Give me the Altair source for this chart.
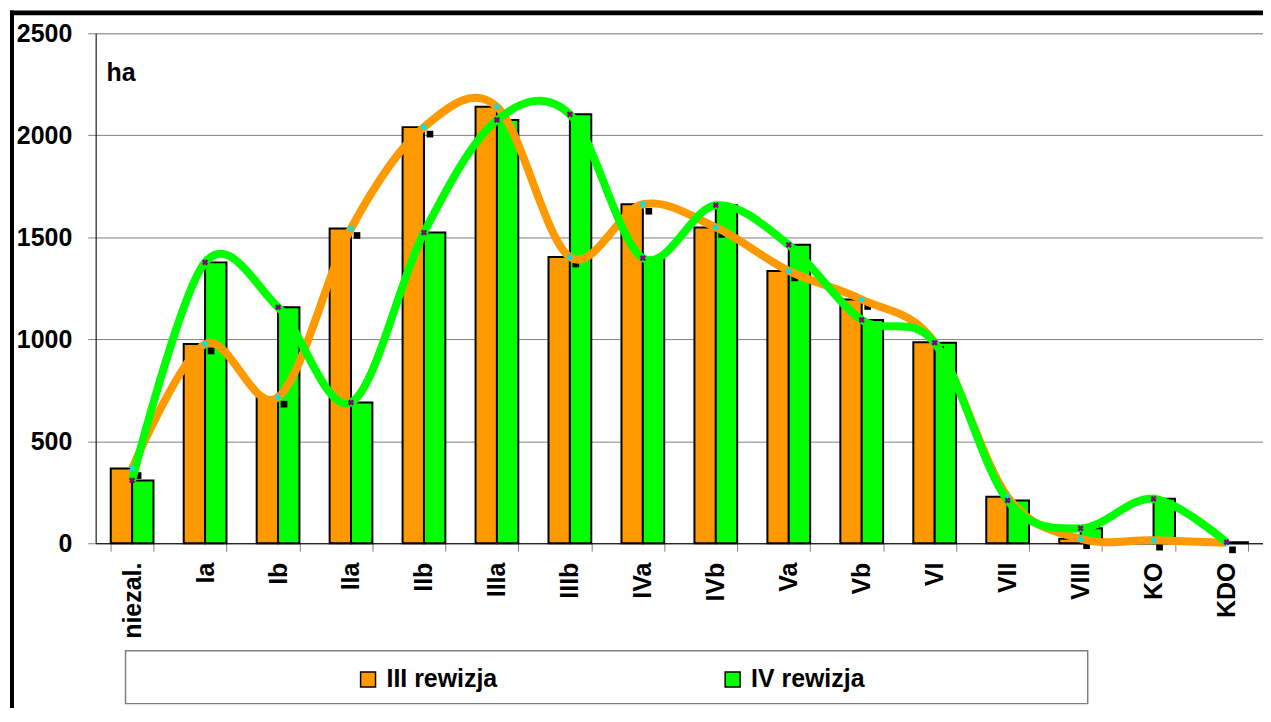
import altair as alt
import pandas as pd

categories = ["niezal.", "Ia", "Ib", "IIa", "IIb", "IIIa", "IIIb", "IVa",
              "IVb", "Va", "Vb", "VI", "VII", "VIII", "KO", "KDO"]
rev3 = [366, 977, 716, 1543, 2040, 2140, 1403, 1662, 1548, 1335, 1195, 985, 228, 22, 15, 2]
rev4 = [308, 1377, 1157, 690, 1523, 2075, 2103, 1398, 1657, 1463, 1095, 983, 210, 73, 218, 5]
series_names = ["III rewizja", "IV rewizja"]
y_ticks = [0, 500, 1000, 1500, 2000, 2500]

rows = []
for c, a, b in zip(categories, rev3, rev4):
    rows.append({"cat": c, "series": series_names[0], "value": a})
    rows.append({"cat": c, "series": series_names[1], "value": b})
df = pd.DataFrame(rows)

FONT = "Liberation Sans"
ORANGE = "#FF9900"
GREEN = "#00FF00"

xenc = alt.X("cat:N", sort=categories, title=None,
             scale=alt.Scale(paddingInner=0.414, paddingOuter=0.207),
             axis=alt.Axis(labelAngle=270, labelFont=FONT, labelFontWeight="bold",
                           labelFontSize=25, labelColor="black", labelPadding=11,
                           tickBand="extent", tickColor="#808080", tickSize=8,
                           domainColor="black", domainWidth=1, grid=False))
yenc = alt.Y("value:Q", title=None,
             scale=alt.Scale(domain=[0, 2500], nice=False),
             axis=alt.Axis(values=y_ticks, format="d", labelFont=FONT, labelFontWeight="bold",
                           labelFontSize=25, labelColor="black", labelPadding=16,
                           tickColor="#808080", tickSize=8, domainColor="black",
                           grid=True, gridColor="#808080", gridWidth=1))
color_scale = alt.Scale(domain=series_names, range=[ORANGE, GREEN])

base = alt.Chart(df)

bars = base.mark_bar(stroke="black", strokeWidth=2).encode(
    x=xenc, y=yenc,
    xOffset=alt.XOffset("series:N", sort=series_names),
    color=alt.Color("series:N", scale=color_scale,
                    legend=alt.Legend(title=None, orient="none", direction="horizontal",
                                      legendX=261, legendY=636, symbolType="square",
                                      symbolSize=225, symbolStrokeColor="black",
                                      symbolStrokeWidth=1.5, labelFont=FONT,
                                      labelFontWeight="bold", labelFontSize=25,
                                      labelColor="black", labelOffset=6,
                                      columnPadding=223, padding=0)),
)

shadows = base.transform_filter(alt.datum.series == series_names[0]).mark_square(
    color="black", filled=True, opacity=1, size=45, xOffset=6, yOffset=7
).encode(x=xenc, y=yenc)

line3 = base.transform_filter(alt.datum.series == series_names[0]).mark_line(
    interpolate="cardinal", strokeWidth=8, color=ORANGE
).encode(x=xenc, y=yenc)
line4 = base.transform_filter(alt.datum.series == series_names[1]).mark_line(
    interpolate="cardinal", strokeWidth=8, color=GREEN
).encode(x=xenc, y=yenc)

marks3 = base.transform_filter(alt.datum.series == series_names[0]).mark_point(
    shape="cross", angle=45, filled=True, size=40, color="#00E5E5", opacity=1
).encode(x=xenc, y=yenc)
marks4 = base.transform_filter(alt.datum.series == series_names[1]).mark_point(
    shape="cross", angle=45, filled=True, size=40, color="#800080", opacity=1
).encode(x=xenc, y=yenc)

unit_label = alt.Chart(pd.DataFrame({"t": ["ha"]})).mark_text(
    align="left", baseline="middle", font=FONT, fontWeight="bold", fontSize=25,
    color="black"
).encode(x=alt.value(11), y=alt.value(40), text="t:N")

legend_box = alt.Chart(pd.DataFrame({"a": [0]})).mark_rect(
    fill="white", stroke="#808080", strokeWidth=1.5
).encode(x=alt.value(30), x2=alt.value(996), y=alt.value(620), y2=alt.value(673))

frame_left = alt.Chart(pd.DataFrame({"a": [0]})).mark_rule(
    color="black", strokeWidth=4
).encode(x=alt.value(-84), y=alt.value(-23), y2=alt.value(720))
frame_top = alt.Chart(pd.DataFrame({"a": [0]})).mark_rule(
    color="black", strokeWidth=5
).encode(x=alt.value(-86), x2=alt.value(1200), y=alt.value(-20.5))

chart = alt.layer(
    legend_box, bars, shadows, line3, line4, marks3, marks4, unit_label,
    frame_left, frame_top
).properties(
    width=1172, height=512,
    padding={"left": 88, "top": 24, "right": 0, "bottom": 164},
    autosize=alt.AutoSizeParams(type="none"),
).configure_view(stroke="transparent").configure_legend(
    symbolStrokeColor="black", symbolStrokeWidth=1.5
).configure(background="white")

chart.save("out.html", embed_options={"renderer": "svg", "actions": False})
